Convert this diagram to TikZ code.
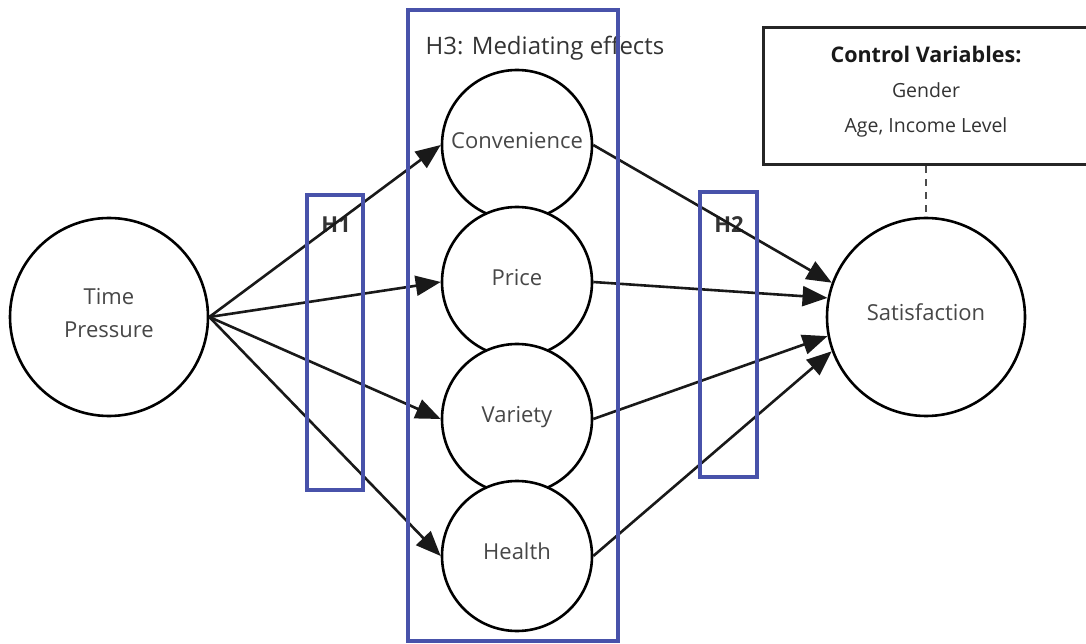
\documentclass[tikz,border=0pt]{standalone}
\usepackage{fontspec}
\setmainfont{Open Sans}
\usetikzlibrary{arrows.meta}
\definecolor{hypblue}{RGB}{72,82,170}

\begin{document}
\begin{tikzpicture}[x=1pt,y=1pt,->,>={Triangle[length=25pt,width=20pt]},node distance=137pt,
                    main node/.style={circle,draw,line width=2.6pt,fill=white,text=black!72,minimum size=150pt,inner sep=0pt,align=center,text depth=9pt,font=\fontsize{22}{33}\selectfont},
                    big node/.style={main node,minimum size=198pt},
                    hyp box/.style={-,draw=hypblue,line width=3.4pt},
                    hyp label/.style={font=\bfseries\fontsize{22}{26}\selectfont,text=black!80}]
                    \useasboundingbox (0,0) rectangle (1086,643);

                    \node[big node] (1) at (109,326) {Time\\Pressure};
                    \node[main node] (2) at (517,498) {Convenience};
                    \node[main node] (3) [below of = 2]{Price};
                    \node[main node] (4) [below of = 3]{Variety};
                    \node[main node] (5) [below of = 4]{Health};
                    \node[big node] (6) at (926,326) {Satisfaction};

                    \node[draw=black!85,line width=3pt,minimum width=326pt,minimum height=137pt,align=center,text=black!80,text depth=14pt,font=\fontsize{19.5}{35}\selectfont] (7) at (926,546.5)
                        {{\bfseries\fontsize{21.5}{35}\selectfont\color{black!90}Control Variables:}\\Gender\\Age, Income Level};

                    \node[text=black!80,font=\fontsize{24}{28}\selectfont] (8) at (545,595) {H3: Mediating effects};
                    \node[hyp label] (9) at (336,418) {H1};
                    \node[hyp label] (10) at (729,418) {H2};

                    \path[line width=2.6pt,black!90]
                        (1.east) edge (2.west)
                        (1.east) edge (3.west)
                        (1.east) edge (4.west)
                        (1.east) edge (5.west)

                        (2.east) edge (6.160)
                        (3.east) edge (6.169)
                        (4.east) edge (6.191)
                        (5.east) edge (6.200)
                        ;
                    \draw[-,line width=1.8pt,black!70,dash pattern=on 7pt off 6pt] (7.south) -- (6.north);

                    % hypothesis frames
                    \draw[hyp box] (408,2) rectangle (618,633);
                    \draw[hyp box] (307,153) rectangle (363,448);
                    \draw[hyp box] (700,166) rectangle (757,451);
                \end{tikzpicture}
\end{document}
